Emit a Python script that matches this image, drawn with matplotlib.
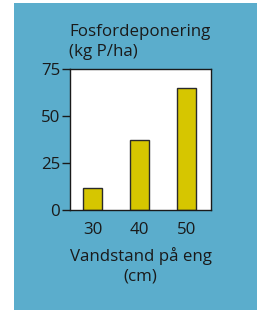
import matplotlib
matplotlib.use("Agg")
import matplotlib.pyplot as plt
from matplotlib.patches import Rectangle

plt.rcParams['font.family'] = ['Open Sans', 'DejaVu Sans']

categories = ["30", "40", "50"]
values = [11.5, 37.5, 65]
yticks = [0, 25, 50, 75]

W, H = 260, 311
fig = plt.figure(figsize=(W / 100, H / 100), dpi=100)
fig.patch.set_facecolor("white")

# blue panel behind everything
fig.patches.append(Rectangle((14 / W, 1 - 310 / H), (257 - 14) / W, (310 - 3) / H,
                             transform=fig.transFigure, facecolor="#5badcc",
                             edgecolor="none", zorder=-5))

ax = fig.add_axes([70 / W, 1 - 210 / H, (211 - 70) / W, (210 - 69) / H])
ax.set_zorder(2)
ax.set_facecolor("white")
x = list(range(len(categories)))
ax.bar(x, values, width=0.41, color="#d6c600", edgecolor="#2a2a2a", linewidth=1.0)
ax.set_xlim(-0.48, 2.52)
ax.set_ylim(0, 75)
ax.set_yticks(yticks)
ax.set_xticks(x)
ax.set_xticklabels(categories)
ax.tick_params(axis="y", length=6, width=1.0, labelsize=12.2, pad=1, colors="#1a1a1a")
ax.tick_params(axis="x", length=0, labelsize=12.2, pad=9, colors="#1a1a1a")
for s in ax.spines.values():
    s.set_linewidth(1.0)
    s.set_color("#1a1a1a")

ax.set_xlabel("Vandstand på eng\n(cm)", fontsize=12.2, linespacing=1.3, labelpad=6,
              color="#1a1a1a")
fig.text(69 / W, 1 - 24 / H, "Fosfordeponering\n(kg P/ha)", ha="left", va="top",
         fontsize=12.2, linespacing=1.3, color="#1a1a1a")

fig.savefig("out.png", dpi=100)
